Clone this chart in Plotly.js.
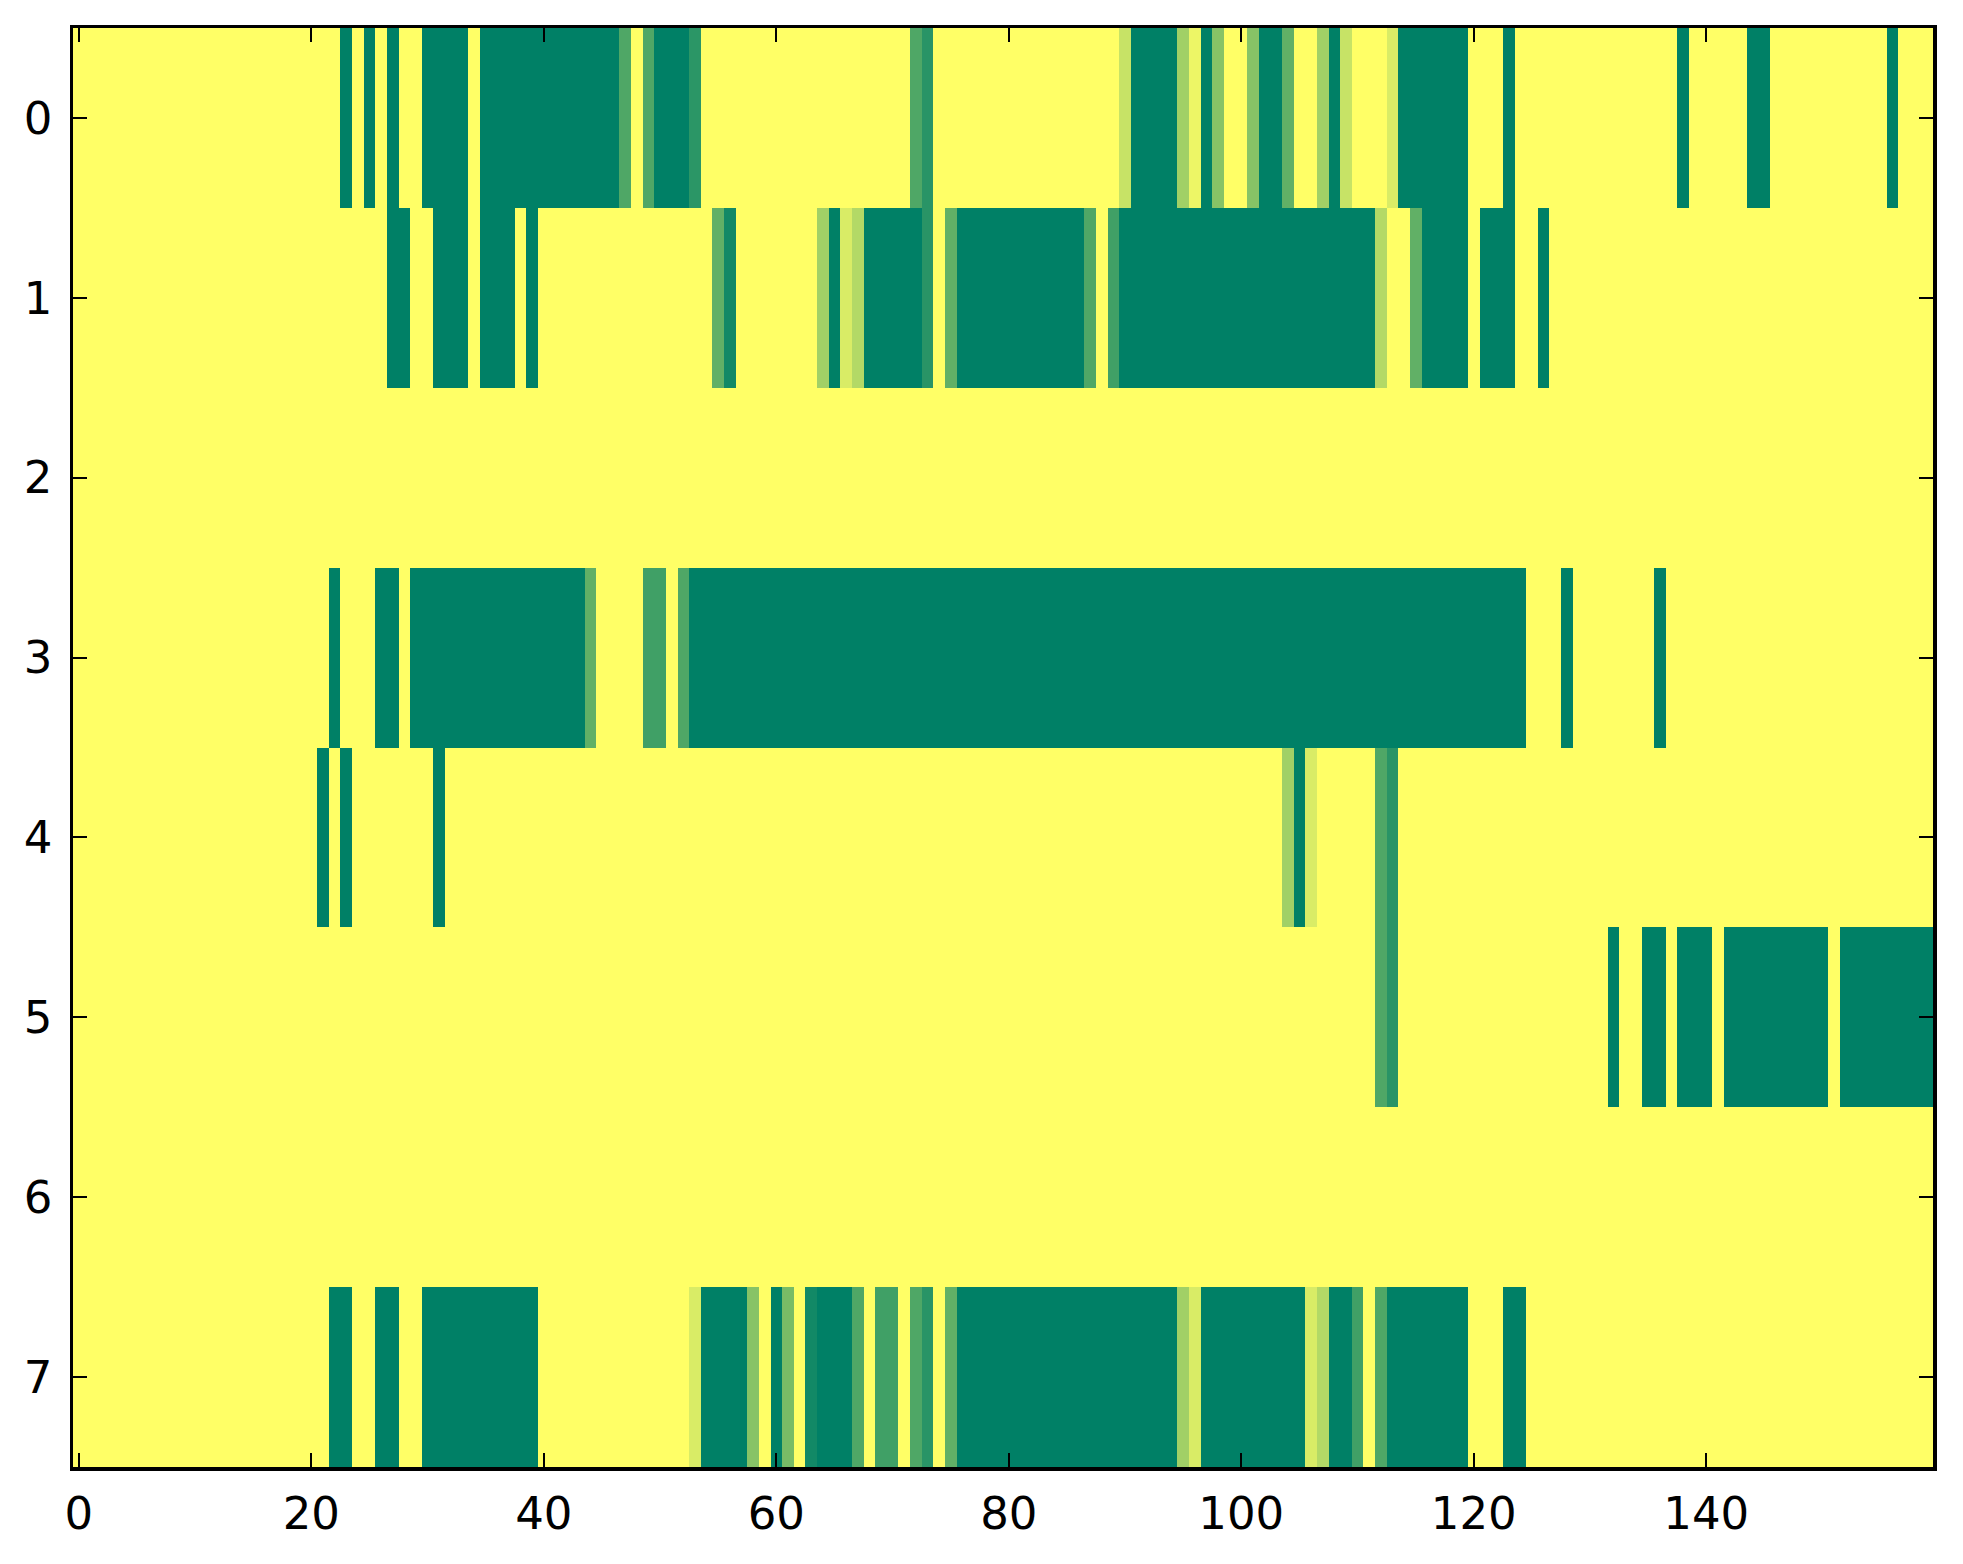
<!DOCTYPE html>
<html>
<head>
<meta charset="utf-8">
<script src="https://cdn.plot.ly/plotly-3.0.1.min.js"></script>
<style>
  html, body { margin: 0; padding: 0; background: #ffffff; }
  #chart { width: 1963px; height: 1564px; }
</style>
</head>
<body>
<div id="chart"></div>
<script>
// Row labels (y) and tick labels
const rowLabels = [0, 1, 2, 3, 4, 5, 6, 7];
const xTickVals = [0, 20, 40, 60, 80, 100, 120, 140];
const yTickVals = [0, 1, 2, 3, 4, 5, 6, 7];

// One array of 160 cell values per row (0 = yellow, 1 = dark green)
const row0 = [
  0,0,0,0,0,0,0,0,0,0,
  0,0,0,0,0,0,0,0,0,0,
  0,0,0,1,0,1,0,1,0,0,
  1,1,1,1,0,1,1,1,1,1,
  1,1,1,1,1,1,1,0.69,0,0.69,
  1,1,1,0.83,0,0,0,0,0,0,
  0,0,0,0,0,0,0,0,0,0,
  0,0,0.69,0.84,0,0,0,0,0,0,
  0,0,0,0,0,0,0,0,0,0,
  0.22,1,1,1,1,0.37,0.07,1,0.47,0,
  0,0.47,1,1,0.62,0,0,0.37,1,0.22,
  0,0,0,0.15,1,1,1,1,1,1,
  0,0,0,1,0,0,0,0,0,0,
  0,0,0,0,0,0,0,0,1,0,
  0,0,0,0,1,1,0,0,0,0,
  0,0,0,0,0,0,1,0,0,0
];
const row1 = [
  0,0,0,0,0,0,0,0,0,0,
  0,0,0,0,0,0,0,0,0,0,
  0,0,0,0,0,0,0,1,1,0,
  0,1,1,1,0,1,1,1,0,1,
  0,0,0,0,0,0,0,0,0,0,
  0,0,0,0,0,0.62,0.93,0,0,0,
  0,0,0,0,0.37,1,0.15,0.3,1,1,
  1,1,1,0.84,0,0.62,1,1,1,1,
  1,1,1,1,1,1,1,0.69,0,0.75,
  1,1,1,1,1,1,1,1,1,1,
  1,1,1,1,1,1,1,1,1,1,
  1,1,0.3,0,0,0.62,1,1,1,1,
  0,1,1,1,0,0,1,0,0,0,
  0,0,0,0,0,0,0,0,0,0,
  0,0,0,0,0,0,0,0,0,0,
  0,0,0,0,0,0,0,0,0,0
];
const row2 = [
  0,0,0,0,0,0,0,0,0,0,
  0,0,0,0,0,0,0,0,0,0,
  0,0,0,0,0,0,0,0,0,0,
  0,0,0,0,0,0,0,0,0,0,
  0,0,0,0,0,0,0,0,0,0,
  0,0,0,0,0,0,0,0,0,0,
  0,0,0,0,0,0,0,0,0,0,
  0,0,0,0,0,0,0,0,0,0,
  0,0,0,0,0,0,0,0,0,0,
  0,0,0,0,0,0,0,0,0,0,
  0,0,0,0,0,0,0,0,0,0,
  0,0,0,0,0,0,0,0,0,0,
  0,0,0,0,0,0,0,0,0,0,
  0,0,0,0,0,0,0,0,0,0,
  0,0,0,0,0,0,0,0,0,0,
  0,0,0,0,0,0,0,0,0,0
];
const row3 = [
  0,0,0,0,0,0,0,0,0,0,
  0,0,0,0,0,0,0,0,0,0,
  0,0,1,0,0,0,1,1,0,1,
  1,1,1,1,1,1,1,1,1,1,
  1,1,1,1,0.62,0,0,0,0,0.75,
  0.75,0,0.69,1,1,1,1,1,1,1,
  1,1,1,1,1,1,1,1,1,1,
  1,1,1,1,1,1,1,1,1,1,
  1,1,1,1,1,1,1,1,1,1,
  1,1,1,1,1,1,1,1,1,1,
  1,1,1,1,1,1,1,1,1,1,
  1,1,1,1,1,1,1,1,1,1,
  1,1,1,1,1,0,0,0,1,0,
  0,0,0,0,0,0,1,0,0,0,
  0,0,0,0,0,0,0,0,0,0,
  0,0,0,0,0,0,0,0,0,0
];
const row4 = [
  0,0,0,0,0,0,0,0,0,0,
  0,0,0,0,0,0,0,0,0,0,
  0,1,0,1,0,0,0,0,0,0,
  0,1,0,0,0,0,0,0,0,0,
  0,0,0,0,0,0,0,0,0,0,
  0,0,0,0,0,0,0,0,0,0,
  0,0,0,0,0,0,0,0,0,0,
  0,0,0,0,0,0,0,0,0,0,
  0,0,0,0,0,0,0,0,0,0,
  0,0,0,0,0,0,0,0,0,0,
  0,0,0,0,0.37,1,0.15,0,0,0,
  0,0,0.69,0.84,0,0,0,0,0,0,
  0,0,0,0,0,0,0,0,0,0,
  0,0,0,0,0,0,0,0,0,0,
  0,0,0,0,0,0,0,0,0,0,
  0,0,0,0,0,0,0,0,0,0
];
const row5 = [
  0,0,0,0,0,0,0,0,0,0,
  0,0,0,0,0,0,0,0,0,0,
  0,0,0,0,0,0,0,0,0,0,
  0,0,0,0,0,0,0,0,0,0,
  0,0,0,0,0,0,0,0,0,0,
  0,0,0,0,0,0,0,0,0,0,
  0,0,0,0,0,0,0,0,0,0,
  0,0,0,0,0,0,0,0,0,0,
  0,0,0,0,0,0,0,0,0,0,
  0,0,0,0,0,0,0,0,0,0,
  0,0,0,0,0,0,0,0,0,0,
  0,0,0.69,0.84,0,0,0,0,0,0,
  0,0,0,0,0,0,0,0,0,0,
  0,0,1,0,0,1,1,0,1,1,
  1,0,1,1,1,1,1,1,1,1,
  1,0,1,1,1,1,1,1,1,1
];
const row6 = [
  0,0,0,0,0,0,0,0,0,0,
  0,0,0,0,0,0,0,0,0,0,
  0,0,0,0,0,0,0,0,0,0,
  0,0,0,0,0,0,0,0,0,0,
  0,0,0,0,0,0,0,0,0,0,
  0,0,0,0,0,0,0,0,0,0,
  0,0,0,0,0,0,0,0,0,0,
  0,0,0,0,0,0,0,0,0,0,
  0,0,0,0,0,0,0,0,0,0,
  0,0,0,0,0,0,0,0,0,0,
  0,0,0,0,0,0,0,0,0,0,
  0,0,0,0,0,0,0,0,0,0,
  0,0,0,0,0,0,0,0,0,0,
  0,0,0,0,0,0,0,0,0,0,
  0,0,0,0,0,0,0,0,0,0,
  0,0,0,0,0,0,0,0,0,0
];
const row7 = [
  0,0,0,0,0,0,0,0,0,0,
  0,0,0,0,0,0,0,0,0,0,
  0,0,1,1,0,0,1,1,0,0,
  1,1,1,1,1,1,1,1,1,1,
  0,0,0,0,0,0,0,0,0,0,
  0,0,0,0.15,1,1,1,1,0.47,0,
  1,0.53,0,0.93,1,1,1,0.69,0,0.75,
  0.75,0,0.69,0.84,0,0.62,1,1,1,1,
  1,1,1,1,1,1,1,1,1,1,
  1,1,1,1,1,0.37,0.15,1,1,1,
  1,1,1,1,1,1,0.15,0.3,1,1,
  0.75,0,0.69,1,1,1,1,1,1,1,
  0,0,0,1,1,0,0,0,0,0,
  0,0,0,0,0,0,0,0,0,0,
  0,0,0,0,0,0,0,0,0,0,
  0,0,0,0,0,0,0,0,0,0
];

const zRows = [row0, row1, row2, row3, row4, row5, row6, row7];
const colIndex = row0.map((_, i) => i);

// summer_r colormap (linear yellow -> green)
const summerR = [[0, '#ffff66'], [1, '#008066']];

const trace = {
  type: 'heatmap',
  z: zRows,
  x: colIndex,
  y: rowLabels,
  colorscale: summerR,
  zmin: 0,
  zmax: 1,
  showscale: false,
  hoverinfo: 'skip'
};

const axisCommon = {
  showgrid: false,
  zeroline: false,
  showline: true,
  linecolor: '#000000',
  linewidth: 3.5,
  mirror: 'ticks',
  ticks: 'inside',
  ticklen: 14,
  tickwidth: 2,
  tickcolor: '#000000',
  tickfont: { family: 'DejaVu Sans', size: 45, color: '#000000' }
};

const layout = {
  width: 1963,
  height: 1564,
  margin: { l: 73, r: 30, t: 28, b: 97 },
  paper_bgcolor: '#ffffff',
  plot_bgcolor: '#ffffff',
  showlegend: false,
  xaxis: Object.assign({}, axisCommon, {
    range: [-0.5, 159.5],
    tickmode: 'array',
    tickvals: xTickVals,
    ticktext: xTickVals.map(String),
    ticklabelstandoff: 4
  }),
  yaxis: Object.assign({}, axisCommon, {
    range: [7.5, -0.5],
    tickmode: 'array',
    tickvals: yTickVals,
    ticktext: yTickVals.map(String),
    ticklabelstandoff: 8
  })
};

Plotly.newPlot('chart', [trace], layout, { displayModeBar: false, staticPlot: true });
</script>
</body>
</html>
